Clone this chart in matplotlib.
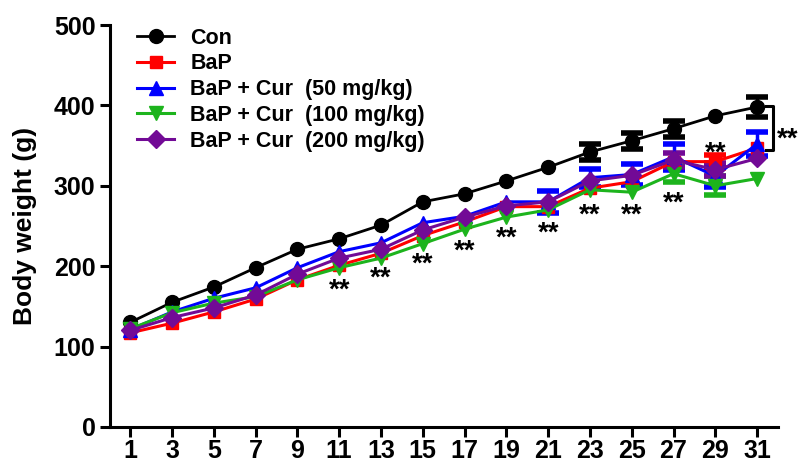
import numpy as np
import matplotlib
matplotlib.use('Agg')
import matplotlib.pyplot as plt

days = [1, 3, 5, 7, 9, 11, 13, 15, 17, 19, 21, 23, 25, 27, 29, 31]

con = [130, 155, 174, 198, 221, 234, 251, 280, 290, 306, 323, 342, 356, 371, 387, 398]
bap = [117, 129, 143, 159, 183, 201, 216, 238, 255, 274, 274, 297, 305, 330, 330, 347]
cur50 = [121, 143, 160, 173, 198, 218, 229, 254, 262, 280, 280, 310, 314, 336, 312, 352]
cur100 = [122, 142, 154, 162, 183, 198, 210, 228, 246, 261, 270, 295, 292, 315, 300, 309]
cur200 = [120, 136, 148, 164, 190, 210, 221, 245, 261, 275, 280, 306, 313, 332, 320, 334]

con_err = [0, 0, 0, 0, 0, 0, 0, 0, 0, 0, 0, 10, 10, 10, 0, 12]
bap_err = [0, 0, 0, 0, 0, 0, 0, 0, 0, 0, 0, 0, 0, 0, 8, 0]
cur50_err = [0, 0, 0, 0, 0, 0, 0, 0, 0, 0, 14, 11, 13, 16, 13, 15]
cur100_err = [0, 0, 0, 0, 0, 0, 0, 0, 0, 0, 0, 0, 0, 10, 12, 0]
cur200_err = [0, 0, 0, 0, 0, 0, 0, 0, 0, 0, 0, 0, 0, 9, 8, 0]

star_days = [11, 13, 15, 17, 19, 21, 23, 25, 27, 29]
star_y = [180, 195, 212, 229, 245, 251, 273, 273, 288, 350]

labels = ['Con', 'BaP', 'BaP + Cur  (50 mg/kg)', 'BaP + Cur  (100 mg/kg)', 'BaP + Cur  (200 mg/kg)']

plt.rcParams['font.family'] = ['Liberation Sans', 'DejaVu Sans']
plt.rcParams['font.weight'] = 'bold'

fig = plt.figure(figsize=(7.98, 4.63), dpi=100)
ax = fig.add_axes([0.138, 0.078, 0.837, 0.868])

series = [
    (con, con_err, 'black', 'o', 10, 2.0),
    (bap, bap_err, '#ff0000', 's', 9, 2.2),
    (cur50, cur50_err, '#0000ff', '^', 10, 2.2),
    (cur100, cur100_err, '#1db41d', 'v', 10, 2.2),
    (cur200, cur200_err, '#720a96', 'D', 9, 2.2),
]

x = np.array(days)
for (vals, err, col, mk, ms, lw), lab in zip(series, labels):
    vals = np.array(vals)
    err = np.array(err)
    m = err > 0
    if m.any():
        ax.errorbar(x[m], vals[m], yerr=err[m], fmt='none', ecolor=col,
                    elinewidth=2.5, capsize=8, capthick=4, zorder=2)
    ax.plot(x, vals, color=col, marker=mk, markersize=ms, linewidth=lw,
            label=lab, zorder=3)

for d, yv in zip(star_days, star_y):
    ax.annotate('**', (d, yv), xytext=(0, -6), textcoords='offset points',
                ha='center', va='center', fontsize=20, fontweight='bold', zorder=4)

# bracket between Con and treated groups at day 31
ax.plot([31.4, 31.75, 31.75, 31.4], [399, 399, 345, 345], color='black',
        linewidth=2.2, clip_on=False)
ax.annotate('**', (32.45, 368), xytext=(0, -6), textcoords='offset points',
            ha='center', va='center', fontsize=20, fontweight='bold',
            annotation_clip=False)

ax.set_xlim(0.04, 32.0)
ax.set_ylim(0, 500)
ax.set_xticks(days)
ax.set_yticks([0, 100, 200, 300, 400, 500])
ax.tick_params(axis='both', labelsize=18, width=2.2, length=7, direction='out')
ax.tick_params(axis='x', pad=2)
for t in ax.get_xticklabels() + ax.get_yticklabels():
    t.set_fontweight('bold')
ax.set_ylabel('Body weight (g)', fontsize=19, fontweight='bold', labelpad=12)

for s in ['top', 'right']:
    ax.spines[s].set_visible(False)
for s in ['left', 'bottom']:
    ax.spines[s].set_linewidth(2.2)

leg = ax.legend(loc='upper left', bbox_to_anchor=(0.028, 1.015), frameon=False,
                fontsize=15.5, handlelength=1.7, handletextpad=0.75, labelspacing=0.22,
                borderaxespad=0)
for t in leg.get_texts():
    t.set_fontweight('bold')

fig.savefig('out.png', dpi=100)
